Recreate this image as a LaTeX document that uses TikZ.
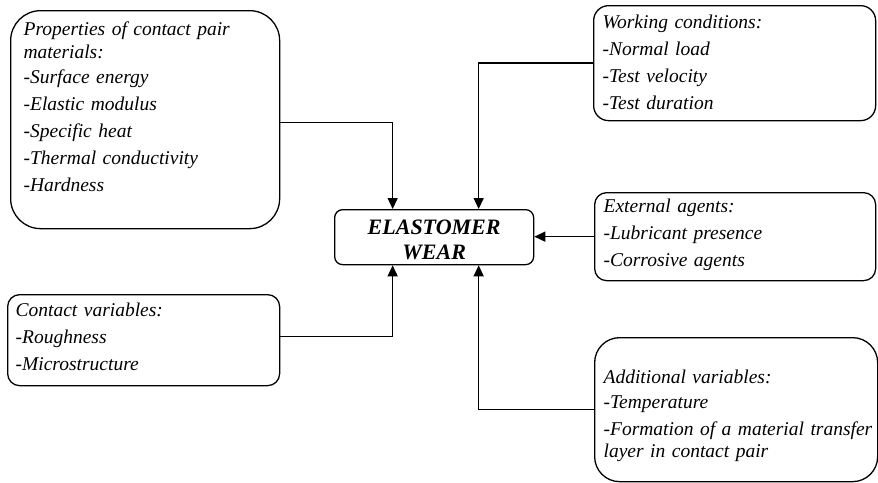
\documentclass[tikz,border=0pt]{standalone}
\usepackage{fontspec}
\setmainfont{Liberation Serif}
\usetikzlibrary{arrows.meta,positioning}

\begin{document}
\begin{tikzpicture}[x=1pt,y=-1pt,
    every node/.style={font=\fontsize{19.5}{27}\selectfont\itshape},
    box/.style={draw,line width=1.3pt,anchor=north west,align=left,inner ysep=0pt},
    arr/.style={-{Triangle[length=11pt,width=10pt]},line width=1.4pt}]
  \useasboundingbox (0,0) rectangle (878,482);

  %% Central node
  \node[box,align=center,rounded corners=8pt,inner xsep=0pt,text width=199pt,
        text height=25pt,text depth=30pt,
        font=\fontsize{22}{25}\selectfont\bfseries\itshape] (wear) at (334,209) {ELASTOMER\\WEAR};

  %% Factors on the left
  \node[box,rounded corners=30pt,inner xsep=13pt,text width=243pt,
        text height=25pt,text depth=193pt] (props) at (10,10)
        {Properties of contact pair\\[-4pt]materials:\\[-2pt]-Surface energy\\-Elastic modulus\\-Specific heat\\-Thermal conductivity\\-Hardness};
  \node[box,rounded corners=12pt,inner xsep=8pt,text width=256pt,
        text height=22pt,text depth=69pt] (contact) at (7,294)
        {Contact variables:\\-Roughness\\-Microstructure};

  %% Factors on the right
  \node[box,rounded corners=15pt,inner xsep=9pt,text width=264pt,
        text height=23pt,text depth=92pt] (work) at (593,5)
        {Working conditions:\\-Normal load\\-Test velocity\\-Test duration};
  \node[box,rounded corners=12pt,inner xsep=9pt,text width=263pt,
        text height=20pt,text depth=68pt] (ext) at (594,192)
        {External agents:\\-Lubricant presence\\-Corrosive agents};
  \node[box,rounded corners=25pt,inner xsep=9pt,text width=265pt,
        text height=46pt,text depth=98pt] (add) at (594,337)
        {Additional variables:\\[-2pt]-Temperature\\\mbox{-Formation of a material transfer}\\[-5pt]layer in contact pair};

  %% Arrows
  \draw[arr] ([yshift=-3pt]props.east) -| ([xshift=-41.5pt]wear.north);
  \draw[arr] (work.west) -| ([xshift=44.5pt]wear.north);
  \draw[arr] (ext.west) -- (wear.east |- ext.west);
  \draw[arr] ([yshift=3.5pt]contact.east) -| ([xshift=-41.5pt]wear.south);
  \draw[arr] (add.west) -| ([xshift=44.5pt]wear.south);
\end{tikzpicture}
\end{document}
